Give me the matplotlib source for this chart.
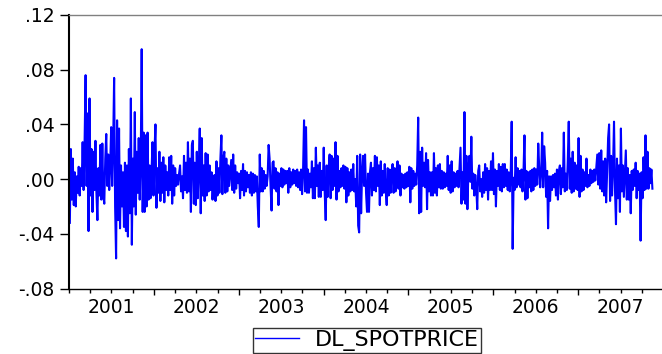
import numpy as np
import matplotlib
matplotlib.use("Agg")
import matplotlib.pyplot as plt

# Daily log-returns of the spot price (values in thousandths)
dl_part1 = [-32, 22, -15, 15, -19, 5, -20, 2, -10, 9, -12, 8, -5, 27, -8, 28, 76, -5, 48, -38,
            59, -12, 22, -24, 20, -8, 28, -10, -30, 8, -12, 25, -15, 26, -12, -18, 15, 33, -5, 18,
            -8, 10, 38, -5, 25, 74, -20, -58, 43, -30, 37, -36, 10, -20, 5, -35, 12, -38, 10, -42,
            22, -25, 59, -48, 15, -20, 49, -26, 20, -10, 30, -15, 10, 95]
dl_part2 = [-24, 34, -24, 32, -20, 34, -15, 10, -14, 5, 27, -12, 20, 40, -21, 8, -10, 20, -16, 12,
            -10, 16, -17, 10, -8, 5, -12, 16, -8, 17, -18, 10, -12, 8, -5, 3, -4, 4, 10, -9,
            2, -14, 17, -8, 12, -10, 27, -9, 15, -24, 25, 28, -18, 12, -19, 20, -14, 8, 37, -25,
            30, -12, 10, -16, 19, -12, 18, -9, 10, -8, 5, -15, -2]
dl_part3 = [3, -16, 13, -12, 8, -10, 15, 32, -11, 15, 20, -10, 15, -9, 10, -5, 5, 14, -8, 18,
            -10, 10, -7, 5, -3, 4, -14, 6, -8, 11, -12, 6, -9, 5, -6, 3, -10, 5, -12, 4,
            -10, 3, -9, 2, -20, -35, 18, -9, 8, -9, 6, -7, 3, -5, 2, 25, 15, -6, -23, 12,
            13, -7, 8, -9, 5, -19, 4, -5, 8, -6, 7, -4, 6, -3]
dl_part4 = [6, -10, 8, -6, 5, -4, 7, -3, 6, -5, 7, -6, 5, -8, 7, -11, 6, 43, -9, 38,
            -10, 7, -10, 4, -6, 13, -14, 8, -14, 23, -5, 10, -13, 12, -13, 6, -8, 23, -10, -30,
            10, -13, 8, 18, -14, 17, -8, 15, -5, 27, -15, 17, -9, 6, -6, 8, -5, 10, -7, 9,
            -17, 8, -12, 5, -9, 7, -8, 11, -9, 0, -20, 17, -34, -39]
dl_part5 = [18, -25, 5, 17, -5, 18, -10, -24, 4, -24, 5, 12, -12, 8, -8, 17, -9, 16, -5, 10,
            -19, 13, -12, 6, -10, 11, -8, -19, 8, -12, 7, -10, 5, 11, -10, 8, -9, 6, 13, -7,
            10, -12, 4, -6, 3, -7, 4, -6, 5, -5, 9, -17, 8, -7, 6, -5, 4, -4, 10, 45,
            -25, 20, -24, 23, -5, 12, -6, 19, -22, 14, -9, 5, -12, 5]
dl_part6 = [-12, 19, -10, 8, -12, 10, -6, 11, -7, 6, -7, 5, -6, 4, -5, 17, -8, 10, -10, 13,
            -9, 5, -6, 4, -5, 6, -6, 8, 23, -18, 5, -15, 49, -18, 17, -22, 5, 17, -2, 31,
            -7, 4, -12, 3, -6, -22, 6, 10, -9, 0, -13, 5, -10, 11, -8, 8, -15, 6, -8, 13,
            -8, 19, -11, 7, -20, 6, -5, 11, -8, 9, -9, 11, -6, 11]
dl_part7 = [-5, 7, -8, 5, -9, 3, 42, -51, 1, -8, 16, -6, 8, -4, 6, -6, 7, -9, 5, 32,
            -15, 6, -14, 5, -6, 6, -9, 7, -8, 8, -5, 7, -4, 26, 8, -6, 5, 34, -6, 24,
            12, -13, 6, -36, 2, -16, 2, -8, 3, -6, 4, -12, 7, -15, 6, 10, -11, 8, -6, 34,
            -9, 4, -8, 13, 42, -7, 15, -10, 20, -9, 12, -7, 10, -8]
dl_part8 = [30, -13, 17, -9, 7, -8, 5, -5, 15, -6, 3, -5, 7, -3, 6, -2, 7, -1, 8, 18,
            -4, 19, -7, 21, -9, 13, -12, 15, -17, 5, 30, 40, -16, 17, -12, 8, 42, -8, -33, 15,
            -14, 10, -24, 37, -9, 10, -13, 4, 21, -15, 8, -15, 3, -25, 6, -8, 7, -5, 12, -14,
            6, -8, 4, -45, 5, -14, 16, -8, 32, -7, 20, -7, 8, -3, 7, -7]

series_start = 2001.01   # decimal year of first observation
series_end = 2007.875    # decimal year of last observation
years = [2001, 2002, 2003, 2004, 2005, 2006, 2007]
ytick_vals = [-0.08, -0.04, 0.00, 0.04, 0.08, 0.12]
ytick_labels = ["-.08", "-.04", ".00", ".04", ".08", ".12"]
legend_label = "DL_SPOTPRICE"

values = np.concatenate([dl_part1, dl_part2, dl_part3, dl_part4,
                         dl_part5, dl_part6, dl_part7, dl_part8]) / 1000.0
t = np.linspace(series_start, series_end, len(values))

plt.rcParams['font.family'] = ['DejaVu Sans']

fig = plt.figure(figsize=(6.62, 3.54), dpi=100)
ax = fig.add_axes([69 / 662, 1 - 288.5 / 354, 594 / 662, (288.5 - 15) / 354])

line, = ax.plot(t, values, color='#0000FF', lw=1.5, label=legend_label)

ax.set_xlim(2001.0, 2001.0 + 594 / 86.2)
ax.set_ylim(-0.08, 0.12)

ax.set_yticks(ytick_vals)
ax.set_yticklabels(ytick_labels)
ax.tick_params(axis='y', direction='out', length=6.5, width=1, pad=4, labelsize=13.5)

ax.set_xticks(years[1:] + [2008])
ax.set_xticks(np.arange(2001.0, 2008.0, 0.25), minor=True)
ax.tick_params(axis='x', which='major', direction='out', length=4.5, width=1, labelbottom=False)
ax.tick_params(axis='x', which='minor', direction='out', length=3, width=1, labelbottom=False)

sec = ax.secondary_xaxis('bottom')
sec.set_xticks([y + 0.5 for y in years])
sec.set_xticklabels([str(y) for y in years])
sec.tick_params(length=0, pad=7, labelsize=13.5)
sec.spines['bottom'].set_visible(False)

ax.spines['right'].set_visible(False)
ax.spines['top'].set_color('#808080')
ax.spines['top'].set_linewidth(1)
ax.spines['left'].set_color('black')
ax.spines['left'].set_linewidth(1.5)
ax.spines['bottom'].set_color('black')
ax.spines['bottom'].set_linewidth(1)

leg = fig.legend(handles=[line], loc='center', bbox_to_anchor=(367 / 662, 1 - 340.5 / 354),
                 fontsize=16, frameon=True, fancybox=False, edgecolor='black',
                 handlelength=2.0, handletextpad=0.7, borderpad=0.1, borderaxespad=0)
leg.get_frame().set_linewidth(1)
leg.legend_handles[0].set_linewidth(1)

fig.savefig('out.png', dpi=100)
